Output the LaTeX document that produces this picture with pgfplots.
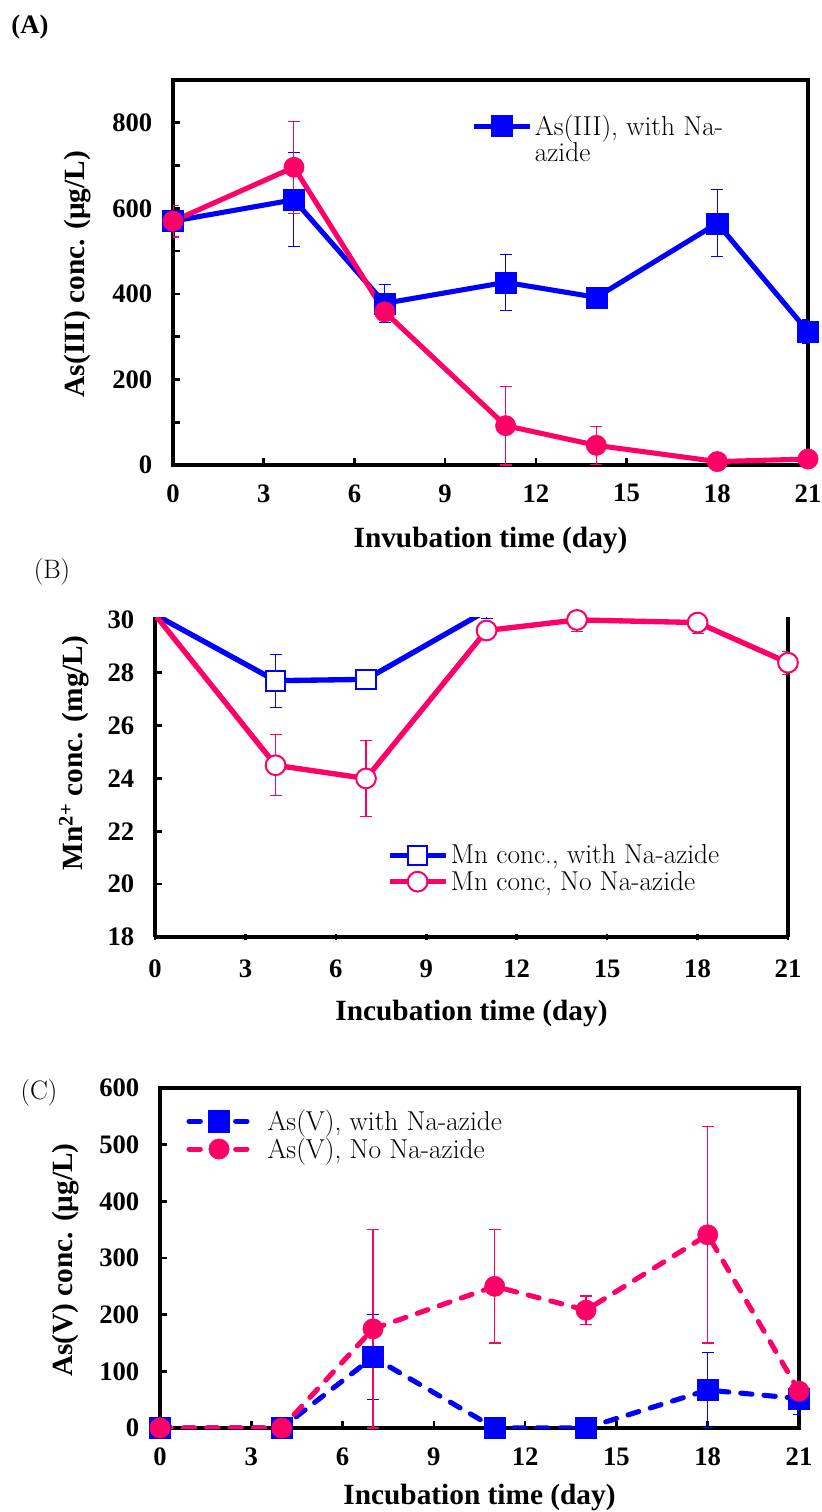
\documentclass[border=0pt]{standalone}
\usepackage{fontspec}
\usepackage{pgfplots}
\usepackage{pgfplotstable}
\pgfplotsset{compat=1.18}
\newfontfamily\tnr{Liberation Serif}
\definecolor{mypink}{RGB}{255,0,102}
\definecolor{myblue}{RGB}{0,0,255}
\newcommand\tickfont{\tnr\bfseries\fontsize{20}{20}\selectfont}
\newcommand\labfont{\tnr\bfseries\fontsize{22}{22}\selectfont}
\newcommand\legfont{\fontsize{20.5}{24}\selectfont}

\pgfplotstableread{
x y e
0 570 25
4 620 110
7 378 45
11 427 65
14 392 12
18 565 78
21 312 27
}\Ablue
\pgfplotstableread{
x y e
0 570 37
4 696 107
7 358 12
11 92 92
14 46 44
18 8 5
21 14 5
}\Ared
\pgfplotstableread{
x y e
0 30.2 0.2
4 27.7 1.0
7 27.75 0.2
11 30.35 0.3
14 30.7 0.3
18 30.6 0.3
21 30.55 0.43
}\Bblue
\pgfplotstableread{
x y e
0 30.2 0.2
4 24.5 1.15
7 24.0 1.45
11 29.6 0.2
14 30.0 0.45
18 29.9 0.4
21 28.38 0.43
}\Bred
\pgfplotstableread{
x y e
0 0 0
4 0 0
7 125 75
11 0 0
14 0 0
18 67 66
21 52 28
}\Cblue
\pgfplotstableread{
x y e
0 0 0
4 0 0
7 175 175
11 250 100
14 208 25
18 341 191
21 65 8
}\Cred

\pgfplotsset{
  panel/.style={
    scale only axis,
    axis line style={line width=2.6pt},
    tick align=inside,
    major tick length=5pt, minor tick length=5pt,
    tick style={line width=2pt, black},
    tick pos=left,
    xmin=0, xmax=21, xtick={0,3,...,21},
    ticklabel style={font=\tickfont},
    /pgf/number format/assume math mode=true,
    xticklabel style={yshift=-11pt},
    yticklabel style={xshift=-12pt},
    label style={font=\labfont},
    legend cell align=left,
    legend style={draw=none, fill=none, font=\legfont, inner sep=0pt},
  },
  ebar/.style={error bars/.cd, y dir=both, y explicit,
    error bar style={line width=0.8pt, solid, color=#1},
    error mark options={rotate=90, mark size=4.5pt, line width=0.8pt, solid, color=#1},
    /pgfplots/.cd},
}

\begin{document}
\begin{tikzpicture}
\useasboundingbox (0,0) rectangle (615.75pt,-1134pt);

% ---------------- (A)
\begin{axis}[panel,
  at={(129.75pt,-348.75pt)}, anchor=south west,
  width=476.25pt, height=288.75pt,
  ymin=0, ymax=900, ytick={0,200,...,800}, minor ytick={100,300,...,700},
  xlabel={Invubation time (day)},
  ylabel={As(III) conc. (μg/L)},
  xlabel style={at={(axis description cs:0.5,-0.197)}, anchor=center},
  ylabel style={at={(axis description cs:-0.15,0.496)}, anchor=center, font=\labfont},
  legend image code/.code={\draw[mark repeat=2,mark phase=2,#1] plot coordinates {(0pt,0pt) (21pt,0pt) (42pt,0pt)};},
  legend style={at={(axis description cs:0.469,0.917)}, anchor=north west},
]
\addplot[myblue, line width=3.8pt, mark=square*, mark size=7.9pt, mark options={line width=0.4pt}, ebar=myblue]
  table[x=x, y=y, y error=e] {\Ablue};
\addlegendentry{As(III), with Na-}
\addlegendimage{empty legend}
\addlegendentry{azide}
\addplot[mypink, forget plot, line width=3.8pt, mark=*, mark size=7.6pt, mark options={line width=0.4pt}, ebar=mypink]
  table[x=x, y=y, y error=e] {\Ared};
\end{axis}

% ---------------- (B)
\begin{axis}[panel,
  at={(116.25pt,-702.75pt)}, anchor=south west,
  width=474.75pt, height=240pt,
  axis x line=bottom, axis y line=box,
  x axis line style={-}, y axis line style={-},
  ymin=18, ymax=30.11, ytick={18,20,...,30},
  xlabel={Incubation time (day)},
  ylabel={Mn\textsuperscript{2+} conc. (mg/L)},
  xlabel style={at={(axis description cs:0.5,-0.24)}, anchor=center, font=\labfont},
  ylabel style={at={(axis description cs:-0.128,0.575)}, anchor=center, rotate=0, font=\labfont},
  legend image code/.code={\draw[mark repeat=2,mark phase=2,#1] plot coordinates {(0pt,0pt) (21pt,0pt) (42pt,0pt)};},
  legend style={at={(axis description cs:0.366,0.297)}, anchor=north west},
]
\addplot[myblue, line width=4pt, mark=square*, mark size=7.4pt, mark options={fill=white, line width=1.5pt}, ebar=myblue]
  table[x=x, y=y, y error=e] {\Bblue};
\addlegendentry{Mn conc., with Na-azide}
\addplot[mypink, line width=4pt, mark=*, mark size=7.4pt, mark options={fill=white, line width=1.5pt}, ebar=mypink]
  table[x=x, y=y, y error=e] {\Bred};
\addlegendentry{Mn conc, No Na-azide}
\end{axis}

% ---------------- (C)
\begin{axis}[panel,
  at={(120pt,-1071pt)}, anchor=south west,
  width=479.25pt, height=255pt,
  ymin=0, ymax=600, ytick={0,100,...,600},
  xlabel={Incubation time (day)},
  ylabel={As(V) conc. (μg/L)},
  xlabel style={at={(axis description cs:0.5,-0.203)}, anchor=center},
  ylabel style={at={(axis description cs:-0.148,0.494)}, anchor=center, font=\labfont},
  legend image code/.code={\draw[mark repeat=2,mark phase=2,#1] plot coordinates {(0pt,0pt) (22.5pt,0pt) (45pt,0pt)};},
  legend style={at={(axis description cs:0.041,0.944)}, anchor=north west,
    /tikz/every odd column/.append style={column sep=10pt}},
]
\addplot[myblue, line width=3.8pt, line cap=round, dash pattern=on 8.5pt off 9pt, mark=square*, mark size=7.9pt, mark options={solid, line width=0.4pt}, ebar=myblue]
  table[x=x, y=y, y error=e] {\Cblue};
\addlegendentry{As(V), with Na-azide}
\addplot[mypink, line width=3.8pt, line cap=round, dash pattern=on 8.5pt off 9pt, mark=*, mark size=7.6pt, mark options={solid, line width=0.4pt}, ebar=mypink]
  table[x=x, y=y, y error=e] {\Cred};
\addlegendentry{As(V), No Na-azide}
\end{axis}

\node[font=\tnr\bfseries\fontsize{20}{20}\selectfont] at (22.5pt,-20.25pt) {(A)};
\node[font=\fontsize{20}{20}\selectfont] at (39pt,-429pt) {(B)};
\node[font=\fontsize{20}{20}\selectfont] at (29.25pt,-819.75pt) {(C)};
\end{tikzpicture}
\end{document}
